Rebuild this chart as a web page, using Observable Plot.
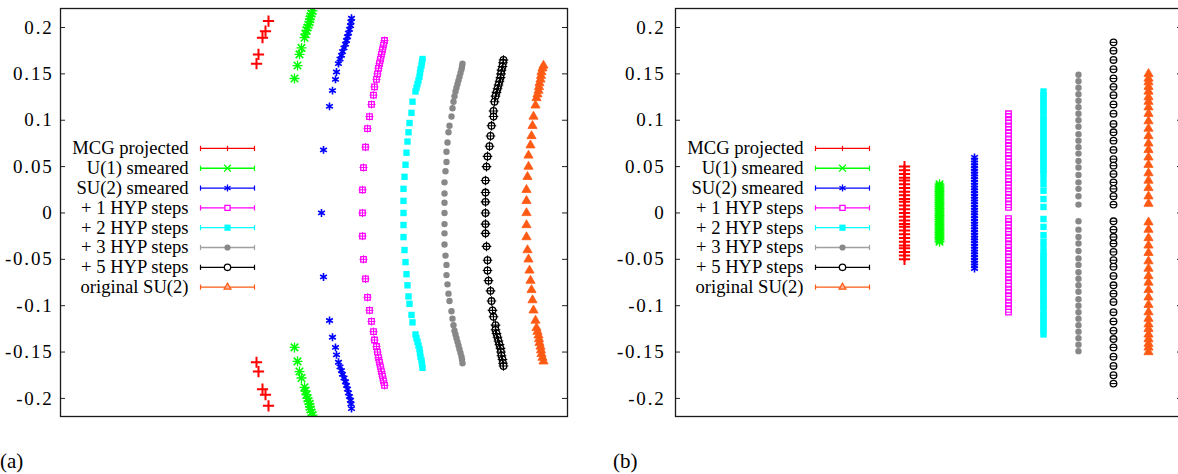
<!DOCTYPE html>
<html>
<head>
<meta charset="utf-8">
<script src="https://cdn.jsdelivr.net/npm/d3@7"></script>
<script src="https://cdn.jsdelivr.net/npm/@observablehq/plot@0.6"></script>
<style>
  html, body { margin: 0; padding: 0; background: #fff; overflow: hidden; }
  #wrap { position: relative; width: 1178px; height: 474px; overflow: hidden; background: #fff; }
  .panel { position: absolute; top: 0; }
  .panel svg { max-width: none !important; }
  .lab { position: absolute; font-family: "Liberation Serif", "Times New Roman", serif; font-size: 21px; line-height: 1; color: #000; }
  .yax text { letter-spacing: 1.8px; }
</style>
</head>
<body>
<div id="wrap">
  <div id="pa" class="panel" style="left:0px;width:590px"></div>
  <div id="pb" class="panel" style="left:600px;width:582px"></div>
  <div class="lab" style="left:0px;top:451px">(a)</div>
  <div class="lab" style="left:613px;top:451px">(b)</div>
</div>
<script>
// ---------------- data ----------------
const seriesNames = ["MCG projected", "U(1) smeared", "SU(2) smeared", "+ 1 HYP steps", "+ 2 HYP steps", "+ 3 HYP steps", "+ 5 HYP steps", "original SU(2)"];
const yTicks = [-0.2, -0.15, -0.1, -0.05, 0, 0.05, 0.1, 0.15, 0.2];

// panel (a): arcs (x in arbitrary horizontal units)
const aMcgX = [196, 198, 202, 205, 208, 196, 198, 202, 205, 208];
const aMcgY = [0.161, 0.171, 0.189, 0.196, 0.207, -0.161, -0.171, -0.190, -0.196, -0.208];

const aU1X = [234, 237, 239, 241, 244, 245, 246, 247, 248, 249, 249.5, 250, 251, 252, 234, 237, 239, 241, 244, 245, 246, 247, 248, 249, 249.5, 250, 251, 252];
const aU1Y = [0.145, 0.159, 0.171, 0.178, 0.189, 0.193, 0.197, 0.200, 0.203, 0.206, 0.209, 0.212, 0.215, 0.218, -0.145, -0.160, -0.171, -0.178, -0.188, -0.192, -0.196, -0.200, -0.203, -0.206, -0.209, -0.212, -0.215, -0.218];

const aSu2X = [291, 290.5, 290, 289, 288, 287, 286, 285, 283.5, 282, 281, 279.5, 278, 276, 275, 272, 269, 263, 261, 263, 269, 272, 275, 276, 278, 279.5, 281, 282, 283.5, 285, 286, 287, 288, 289, 290, 290.5, 291];
const aSu2Y = [0.210, 0.206, 0.202, 0.198, 0.194, 0.190, 0.186, 0.182, 0.178, 0.174, 0.170, 0.166, 0.161, 0.152, 0.144, 0.132, 0.115, 0.068, 0, -0.069, -0.116, -0.134, -0.145, -0.153, -0.161, -0.166, -0.170, -0.174, -0.178, -0.182, -0.186, -0.190, -0.194, -0.198, -0.202, -0.206, -0.211];

const aHyp1X = [324, 323, 322, 321, 320, 319, 318, 317, 316, 314, 313, 311, 309, 307, 305, 303, 302, 302, 302, 303, 305, 307, 309, 311, 313, 314, 316, 317, 318, 319, 320, 321, 322, 323, 324];
const aHyp1Y = [0.186, 0.181, 0.176, 0.171, 0.166, 0.161, 0.156, 0.150, 0.144, 0.136, 0.127, 0.117, 0.104, 0.091, 0.071, 0.049, 0.025, 0, -0.025, -0.050, -0.071, -0.091, -0.105, -0.117, -0.128, -0.137, -0.144, -0.150, -0.156, -0.161, -0.166, -0.171, -0.176, -0.181, -0.186];

const aHyp2X = [362, 361.5, 361, 360, 359.5, 359, 358, 357, 356, 355, 352, 351, 349, 348, 347, 346, 345, 344, 343, 343, 343, 343, 343, 344, 345, 346, 347, 348, 349, 351, 352, 355, 356, 357, 358, 359, 359.5, 360, 361, 361.5, 362];
const aHyp2Y = [0.166, 0.163, 0.159, 0.155, 0.151, 0.147, 0.143, 0.139, 0.135, 0.131, 0.120, 0.108, 0.097, 0.087, 0.077, 0.065, 0.052, 0.039, 0.026, 0.013, 0, -0.013, -0.026, -0.040, -0.053, -0.066, -0.078, -0.090, -0.098, -0.110, -0.118, -0.131, -0.135, -0.139, -0.143, -0.147, -0.151, -0.155, -0.159, -0.163, -0.167];

const aHyp3X = [402, 401.5, 401, 400, 399, 398, 397, 396, 395, 394, 393, 392, 391, 389, 388, 387, 386, 386, 385, 384, 384, 384, 384, 384, 384, 384, 385, 386, 386, 387, 388, 389, 391, 392, 393, 394, 395, 396, 397, 398, 399, 400, 401, 401.5, 402];
const aHyp3Y = [0.161, 0.158, 0.155, 0.151, 0.147, 0.143, 0.139, 0.135, 0.131, 0.126, 0.120, 0.113, 0.104, 0.094, 0.087, 0.076, 0.066, 0.055, 0.045, 0.033, 0.021, 0.011, 0, -0.012, -0.022, -0.034, -0.046, -0.056, -0.067, -0.077, -0.087, -0.095, -0.106, -0.114, -0.121, -0.127, -0.131, -0.135, -0.139, -0.143, -0.147, -0.151, -0.155, -0.158, -0.162];

const aHyp5X = [443, 442.5, 442, 441, 440.5, 440, 439, 438, 437, 436, 435, 434, 433, 433, 431, 430, 429, 427, 426, 425, 425, 425, 425, 425, 425, 426, 427, 427, 428, 430, 431, 432, 433, 435, 435, 436, 437, 438, 439, 440, 440.5, 441, 442, 442.5, 443];
const aHyp5Y = [0.165, 0.162, 0.158, 0.154, 0.150, 0.146, 0.142, 0.138, 0.134, 0.130, 0.126, 0.120, 0.110, 0.104, 0.094, 0.083, 0.072, 0.061, 0.050, 0.035, 0.022, 0.012, 0, -0.012, -0.022, -0.036, -0.051, -0.062, -0.073, -0.084, -0.095, -0.105, -0.112, -0.121, -0.126, -0.130, -0.134, -0.138, -0.142, -0.146, -0.150, -0.154, -0.158, -0.162, -0.165];

const aOrigX = [483, 482, 481, 480.5, 480, 479, 478.5, 478, 477, 476, 475, 473, 472, 471, 470, 468, 468, 467, 466, 466, 466, 466, 466, 467, 468, 469, 470, 471, 472, 473, 475, 476, 477, 478, 478.5, 479, 480, 480.5, 481, 482, 483];
const aOrigY = [0.159, 0.156, 0.152, 0.148, 0.144, 0.140, 0.136, 0.132, 0.128, 0.124, 0.116, 0.104, 0.094, 0.083, 0.073, 0.062, 0.050, 0.039, 0.025, 0.013, 0, -0.013, -0.026, -0.040, -0.050, -0.062, -0.073, -0.083, -0.094, -0.105, -0.116, -0.124, -0.128, -0.132, -0.136, -0.140, -0.144, -0.148, -0.152, -0.156, -0.160];

// panel (b): vertical columns
const bColumnX = [229, 264, 299, 333, 368, 403, 438, 473];
const bMcgY = [0.050, 0.046, 0.042, 0.038, 0.035, 0.031, 0.027, 0.023, 0.019, 0.015, 0.012, 0.008, 0.004, 0, -0.004, -0.008, -0.012, -0.015, -0.019, -0.023, -0.027, -0.031, -0.035, -0.038, -0.042, -0.046, -0.050];
const bU1Y = [0.031, 0.029, 0.027, 0.025, 0.023, 0.021, 0.019, 0.017, 0.015, 0.013, 0.011, 0.009, 0.007, 0.005, 0.003, 0.001, -0.001, -0.003, -0.005, -0.007, -0.009, -0.011, -0.013, -0.015, -0.017, -0.019, -0.021, -0.023, -0.025, -0.027, -0.029, -0.031];
const bSu2Y = [0.060, 0.057, 0.054, 0.051, 0.048, 0.045, 0.042, 0.039, 0.036, 0.033, 0.030, 0.027, 0.024, 0.021, 0.018, 0.015, 0.012, 0.009, 0.006, 0.003, 0, -0.003, -0.006, -0.009, -0.012, -0.015, -0.018, -0.021, -0.024, -0.027, -0.030, -0.033, -0.036, -0.039, -0.042, -0.045, -0.048, -0.051, -0.054, -0.057, -0.060];
const bHyp1Y = [0.107, 0.104, 0.100, 0.097, 0.093, 0.090, 0.086, 0.083, 0.079, 0.076, 0.072, 0.069, 0.065, 0.062, 0.058, 0.055, 0.051, 0.048, 0.044, 0.041, 0.037, 0.034, 0.030, 0.027, 0.023, 0.020, 0.016, 0.013, 0.009, 0.006, -0.006, -0.009, -0.013, -0.016, -0.020, -0.023, -0.027, -0.030, -0.034, -0.037, -0.041, -0.044, -0.048, -0.051, -0.055, -0.058, -0.062, -0.065, -0.069, -0.072, -0.076, -0.079, -0.083, -0.086, -0.090, -0.093, -0.097, -0.100, -0.104, -0.107];
const bHyp2Y = [0.131, 0.127, 0.124, 0.120, 0.117, 0.113, 0.110, 0.106, 0.102, 0.099, 0.095, 0.092, 0.088, 0.085, 0.081, 0.078, 0.074, 0.071, 0.067, 0.064, 0.060, 0.057, 0.053, 0.050, 0.046, 0.043, 0.037, 0.031, 0.024, 0.015, 0.0065, -0.0065, -0.015, -0.024, -0.031, -0.037, -0.043, -0.046, -0.050, -0.053, -0.057, -0.060, -0.064, -0.067, -0.071, -0.074, -0.078, -0.081, -0.085, -0.088, -0.092, -0.095, -0.099, -0.102, -0.106, -0.110, -0.113, -0.117, -0.120, -0.124, -0.127, -0.131];
const bHyp3Y = [0.149, 0.142, 0.135, 0.128, 0.121, 0.114, 0.107, 0.100, 0.093, 0.085, 0.078, 0.071, 0.064, 0.056, 0.049, 0.041, 0.033, 0.026, 0.018, 0.009, -0.009, -0.018, -0.026, -0.033, -0.041, -0.049, -0.056, -0.064, -0.071, -0.078, -0.085, -0.093, -0.100, -0.107, -0.114, -0.121, -0.128, -0.135, -0.142, -0.149];
const bHyp5Y = [0.184, 0.175, 0.165, 0.155, 0.145, 0.136, 0.127, 0.117, 0.107, 0.096, 0.087, 0.078, 0.068, 0.058, 0.051, 0.042, 0.033, 0.026, 0.018, 0.009, -0.009, -0.018, -0.026, -0.033, -0.042, -0.051, -0.058, -0.068, -0.078, -0.087, -0.096, -0.107, -0.117, -0.127, -0.136, -0.145, -0.155, -0.165, -0.175, -0.184];
const bOrigY = [0.150, 0.145, 0.141, 0.136, 0.131, 0.125, 0.120, 0.114, 0.107, 0.099, 0.091, 0.083, 0.075, 0.068, 0.060, 0.052, 0.043, 0.035, 0.027, 0.018, 0.010, -0.010, -0.018, -0.027, -0.035, -0.043, -0.052, -0.060, -0.068, -0.075, -0.083, -0.091, -0.099, -0.107, -0.114, -0.120, -0.125, -0.131, -0.136, -0.141, -0.145, -0.150];

// ---------------- styling ----------------
const colors = ["#ff0000", "#00ff00", "#0000ff", "#ff00ff", "#00ffff", "#888888", "#000000", "#ff5a14"];
const legendLineColors = ["#ff0000", "#00ff00", "#0000ff", "#ff00ff", "#00ffff", "#a0a0a0", "#000000", "#ff5a14"];
const FONT = "Liberation Serif, Times New Roman, serif";

const vbar = {draw(ctx, size) { const r = Math.sqrt(size / Math.PI); ctx.moveTo(0, -r); ctx.lineTo(0, r); }};
const hbar = {draw(ctx, size) { const r = Math.sqrt(size / Math.PI); ctx.moveTo(-r, 0); ctx.lineTo(r, 0); }};

function toRows(xs, ys) {
  return ys.map((y, i) => ({x: Array.isArray(xs) ? xs[i] : xs, y}));
}

function markerSpec(k, panel) {
  const c = colors[k];
  switch (k) {
    case 0: return [{symbol: "plus", stroke: c, fill: "none", r: 3.7, strokeWidth: 2}];
    case 1: return [{symbol: "times", stroke: c, fill: "none", r: 3.5, strokeWidth: 1.6}, {symbol: "plus", stroke: c, fill: "none", r: 3.3, strokeWidth: 1.3}];
    case 2: return [{symbol: "asterisk", stroke: c, fill: "none", r: 3.7, strokeWidth: 1.6}];
    case 3: return [{symbol: "square2", stroke: c, fill: "white", r: 3.5, strokeWidth: 1.3}, {symbol: panel === "a" ? "plus" : hbar, stroke: c, fill: "none", r: 2.7, strokeWidth: 1}];
    case 4: return [{symbol: "square", fill: c, stroke: "none", r: 3.6}];
    case 5: return [{symbol: "circle", fill: c, stroke: "none", r: 3.2}];
    case 6: return [{symbol: "circle", fill: "white", stroke: c, r: 3.3, strokeWidth: 1.3}, {symbol: panel === "a" ? "plus" : hbar, stroke: c, fill: "none", r: 3.2, strokeWidth: 1.1}];
    case 7: return [{symbol: "triangle", fill: c, stroke: c, r: 3.4, strokeWidth: 0.8}];
  }
}
function legendSpec(k) {
  const c = colors[k];
  switch (k) {
    case 0: return [{symbol: vbar, stroke: c, fill: "none", r: 2.6, strokeWidth: 1.2}];
    case 1: return [{symbol: "times", stroke: c, fill: "none", r: 3.2, strokeWidth: 1.3}];
    case 2: return [{symbol: "asterisk", stroke: c, fill: "none", r: 3.3, strokeWidth: 1.3}];
    case 3: return [{symbol: "square2", stroke: c, fill: "white", r: 3.3, strokeWidth: 1.3}];
    case 4: return [{symbol: "square", fill: c, stroke: "none", r: 3.5}];
    case 5: return [{symbol: "circle", fill: c, stroke: "none", r: 3.1}];
    case 6: return [{symbol: "circle", fill: "white", stroke: c, r: 3.2, strokeWidth: 1.3}];
    case 7: return [{symbol: "triangle2", fill: "#ffb090", stroke: c, r: 3.3, strokeWidth: 1.2}];
  }
}

function dotsFor(rows, specs) {
  return specs.map(s => Plot.dot(rows, {x: "x", y: "y", clip: true, ...s}));
}

function buildPanel(seriesRows, panel, opts) {
  const legendTop = 0.0696, legendStep = 0.02137;
  const legendRows = seriesNames.map((name, i) => ({name, i, y: legendTop - i * legendStep}));
  const marks = [];
  marks.push(Plot.ruleY(yTicks, {x1: 0, x2: 5, stroke: "#222", strokeWidth: 1}));
  marks.push(Plot.ruleY(yTicks, {x1: 502, x2: 507, stroke: "#222", strokeWidth: 1}));
  marks.push(Plot.text(legendRows, {x: 128, y: "y", text: "name", textAnchor: "end", fill: "#000", fontSize: 18.6}));
  legendRows.forEach(r => {
    const col = legendLineColors[r.i];
    marks.push(Plot.ruleY([r], {y: "y", x1: 140, x2: 194, stroke: col, strokeWidth: 1.3}));
    marks.push(Plot.dot([{x: 140, y: r.y}, {x: 194, y: r.y}], {x: "x", y: "y", symbol: vbar, r: 2.6, stroke: col, fill: "none", strokeWidth: 1.2}));
    marks.push(...dotsFor([{x: 167, y: r.y}], legendSpec(r.i)));
  });
  seriesRows.forEach((rows, k) => marks.push(...dotsFor(rows, markerSpec(k, panel))));
  marks.push(Plot.frame({stroke: "#1a1a1a", strokeWidth: 1.3}));
  marks.push(Plot.axisY({ticks: yTicks, tickFormat: d => String(d), tickSize: 0, tickPadding: opts.tickPadding, fontSize: 19, label: null, className: "yax"}));
  return Plot.plot({
    width: opts.width,
    height: 474,
    marginLeft: opts.marginLeft,
    marginRight: opts.marginRight,
    marginTop: 8,
    marginBottom: 58,
    style: {fontFamily: FONT, fontSize: "18.6px", background: "transparent", color: "#000", overflow: "visible", maxWidth: "none"},
    x: {domain: [0, 507], axis: null},
    y: {domain: [-0.2195, 0.2205], axis: null},
    marks
  });
}

const aRows = [
  toRows(aMcgX, aMcgY), toRows(aU1X, aU1Y), toRows(aSu2X, aSu2Y), toRows(aHyp1X, aHyp1Y),
  toRows(aHyp2X, aHyp2Y), toRows(aHyp3X, aHyp3Y), toRows(aHyp5X, aHyp5Y), toRows(aOrigX, aOrigY)
];
const bYs = [bMcgY, bU1Y, bSu2Y, bHyp1Y, bHyp2Y, bHyp3Y, bHyp5Y, bOrigY];
const bRows = bYs.map((ys, k) => toRows(bColumnX[k], ys));

document.getElementById("pa").appendChild(buildPanel(aRows, "a", {width: 590, marginLeft: 60, marginRight: 23, tickPadding: 7}));
document.getElementById("pb").appendChild(buildPanel(bRows, "b", {width: 582, marginLeft: 75, marginRight: 0, tickPadding: 10}));
</script>
</body>
</html>
